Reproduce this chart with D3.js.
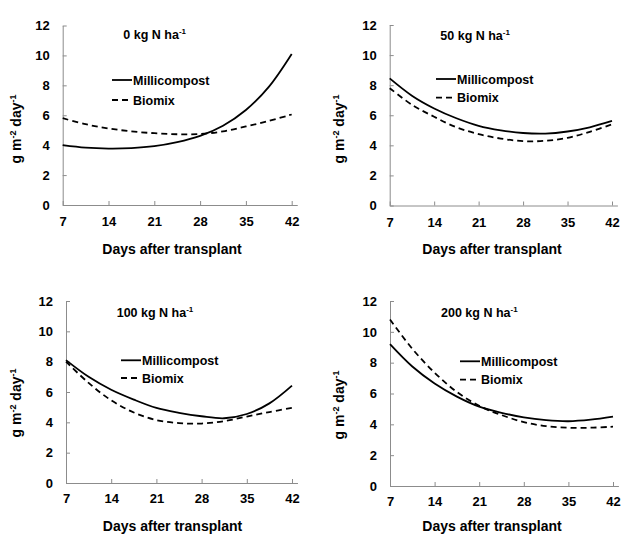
<!DOCTYPE html>
<html><head><meta charset="utf-8">
<script src="https://cdn.jsdelivr.net/npm/d3@7"></script>
<style>
html,body{margin:0;padding:0;background:#fff;}
svg{display:block;font-family:"Liberation Sans",Arial,sans-serif;font-weight:bold;}
</style></head>
<body><svg id="c" width="622" height="536"></svg>
<script>
// ---- data ----
const days = [7, 10.5, 14, 17.5, 21, 24.5, 28, 31.5, 35, 38.5, 42];
const xTicks = [7, 14, 21, 28, 35, 42];
const yTicks = [0, 2, 4, 6, 8, 10, 12];
const seriesNames = ["Millicompost", "Biomix"];
const nRates = ["0", "50", "100", "200"];
const milli0 = [4.0, 3.83, 3.77, 3.8, 3.93, 4.2, 4.62, 5.3, 6.35, 7.9, 10.1];
const bio0   = [5.8, 5.4, 5.12, 4.92, 4.8, 4.73, 4.75, 4.92, 5.25, 5.62, 6.05];
const milli50 = [8.45, 7.3, 6.45, 5.8, 5.3, 5.0, 4.82, 4.78, 4.92, 5.2, 5.62];
const bio50   = [7.8, 6.7, 5.9, 5.2, 4.75, 4.45, 4.28, 4.3, 4.5, 4.9, 5.4];
const milli100 = [8.1, 7.0, 6.15, 5.5, 4.95, 4.63, 4.4, 4.27, 4.55, 5.25, 6.42];
const bio100   = [8.0, 6.6, 5.45, 4.65, 4.15, 3.95, 3.92, 4.08, 4.38, 4.68, 4.95];
const milli200 = [9.2, 7.75, 6.65, 5.8, 5.15, 4.75, 4.45, 4.27, 4.2, 4.3, 4.5];
const bio200   = [10.8, 8.9, 7.35, 6.1, 5.2, 4.6, 4.15, 3.88, 3.78, 3.78, 3.85];
const panelSeries = [[milli0, bio0], [milli50, bio50], [milli100, bio100], [milli200, bio200]];

// ---- layout ----
const layout = [
  {x0: 62.7, x42: 291.7, y0: 205, y12: 25.5, tp: 12, yt: [16, 129], xt: [172, 254], title: [123.3, 39.3], leg: [112, 80, 100]},
  {x0: 389.7, x42: 612, y0: 205.5, y12: 25, tp: 12, yt: [339, 129], xt: [492, 254], title: [440.3, 40], leg: [436, 79, 97.7]},
  {x0: 66, x42: 292, y0: 483, y12: 301, tp: 11, yt: [16, 403], xt: [172.5, 531], title: [116.7, 317], leg: [121, 360.3, 378]},
  {x0: 390, x42: 613, y0: 486, y12: 301, tp: 11, yt: [339, 405], xt: [492, 531], title: [441, 317.3], leg: [460, 361.3, 379.7]}
];
const axisColor = "#8c8c8c";
const dashes = [null, "6,4"];

const svg = d3.select("#c");

layout.forEach((L, i) => {
  const perDay = (L.x42 - L.x0) / 35;
  const xEnd = 42.85;
  const x = d3.scaleLinear().domain([7, xEnd]).range([L.x0, L.x0 + perDay * (xEnd - 7)]);
  const y = d3.scaleLinear().domain([0, 12]).range([L.y0, L.y12]);
  const g = svg.append("g");

  const ya = g.append("g").attr("transform", `translate(${L.x0},0)`)
    .call(d3.axisLeft(y).tickValues(yTicks).tickSizeInner(-4).tickSizeOuter(0).tickPadding(13));
  const xa = g.append("g").attr("transform", `translate(0,${L.y0})`)
    .call(d3.axisBottom(x).tickValues(xTicks).tickSizeInner(-4).tickSizeOuter(0).tickPadding(L.tp));
  [ya, xa].forEach(a => {
    a.select(".domain").attr("stroke", axisColor).attr("stroke-width", 1);
    a.selectAll(".tick line").attr("stroke", axisColor);
    a.selectAll("text").attr("fill", "#000").attr("font-size", 13).attr("font-weight", "bold")
      .attr("font-family", "Liberation Sans, Arial, sans-serif");
  });

  const line = d3.line().x((d, j) => x(days[j])).y(d => y(d)).curve(d3.curveCatmullRom.alpha(0.5));
  panelSeries[i].forEach((vals, s) => {
    g.append("path").datum(vals).attr("d", line).attr("fill", "none")
      .attr("stroke", "#000").attr("stroke-width", 1.8)
      .attr("stroke-dasharray", dashes[s]);
  });

  // title
  const t = g.append("text").attr("x", L.title[0]).attr("y", L.title[1]).attr("font-size", 12.5);
  t.append("tspan").text(nRates[i] + " kg N ha");
  t.append("tspan").attr("font-size", 8).attr("dy", -5).text("-1");

  // legend
  seriesNames.forEach((nm, s) => {
    const ly = L.leg[1 + s];
    g.append("line").attr("x1", L.leg[0]).attr("x2", L.leg[0] + 20).attr("y1", ly).attr("y2", ly)
      .attr("stroke", "#000").attr("stroke-width", 1.8).attr("stroke-dasharray", dashes[s]);
    g.append("text").attr("x", L.leg[0] + 21).attr("y", ly + 4.5).attr("font-size", 12.5).text(nm);
  });

  // x title
  g.append("text").attr("x", L.xt[0]).attr("y", L.xt[1]).attr("text-anchor", "middle")
    .attr("font-size", 14).text("Days after transplant");

  // y title
  const yt = g.append("text").attr("transform", `translate(${L.yt[0] + 5},${L.yt[1]}) rotate(-90)`)
    .attr("text-anchor", "middle").attr("font-size", 14);
  yt.append("tspan").text("g m");
  yt.append("tspan").attr("font-size", 9).attr("dy", -5).text("-2");
  yt.append("tspan").attr("dy", 5).text(" day");
  yt.append("tspan").attr("font-size", 9).attr("dy", -5).text("-1");
});
</script></body></html>
